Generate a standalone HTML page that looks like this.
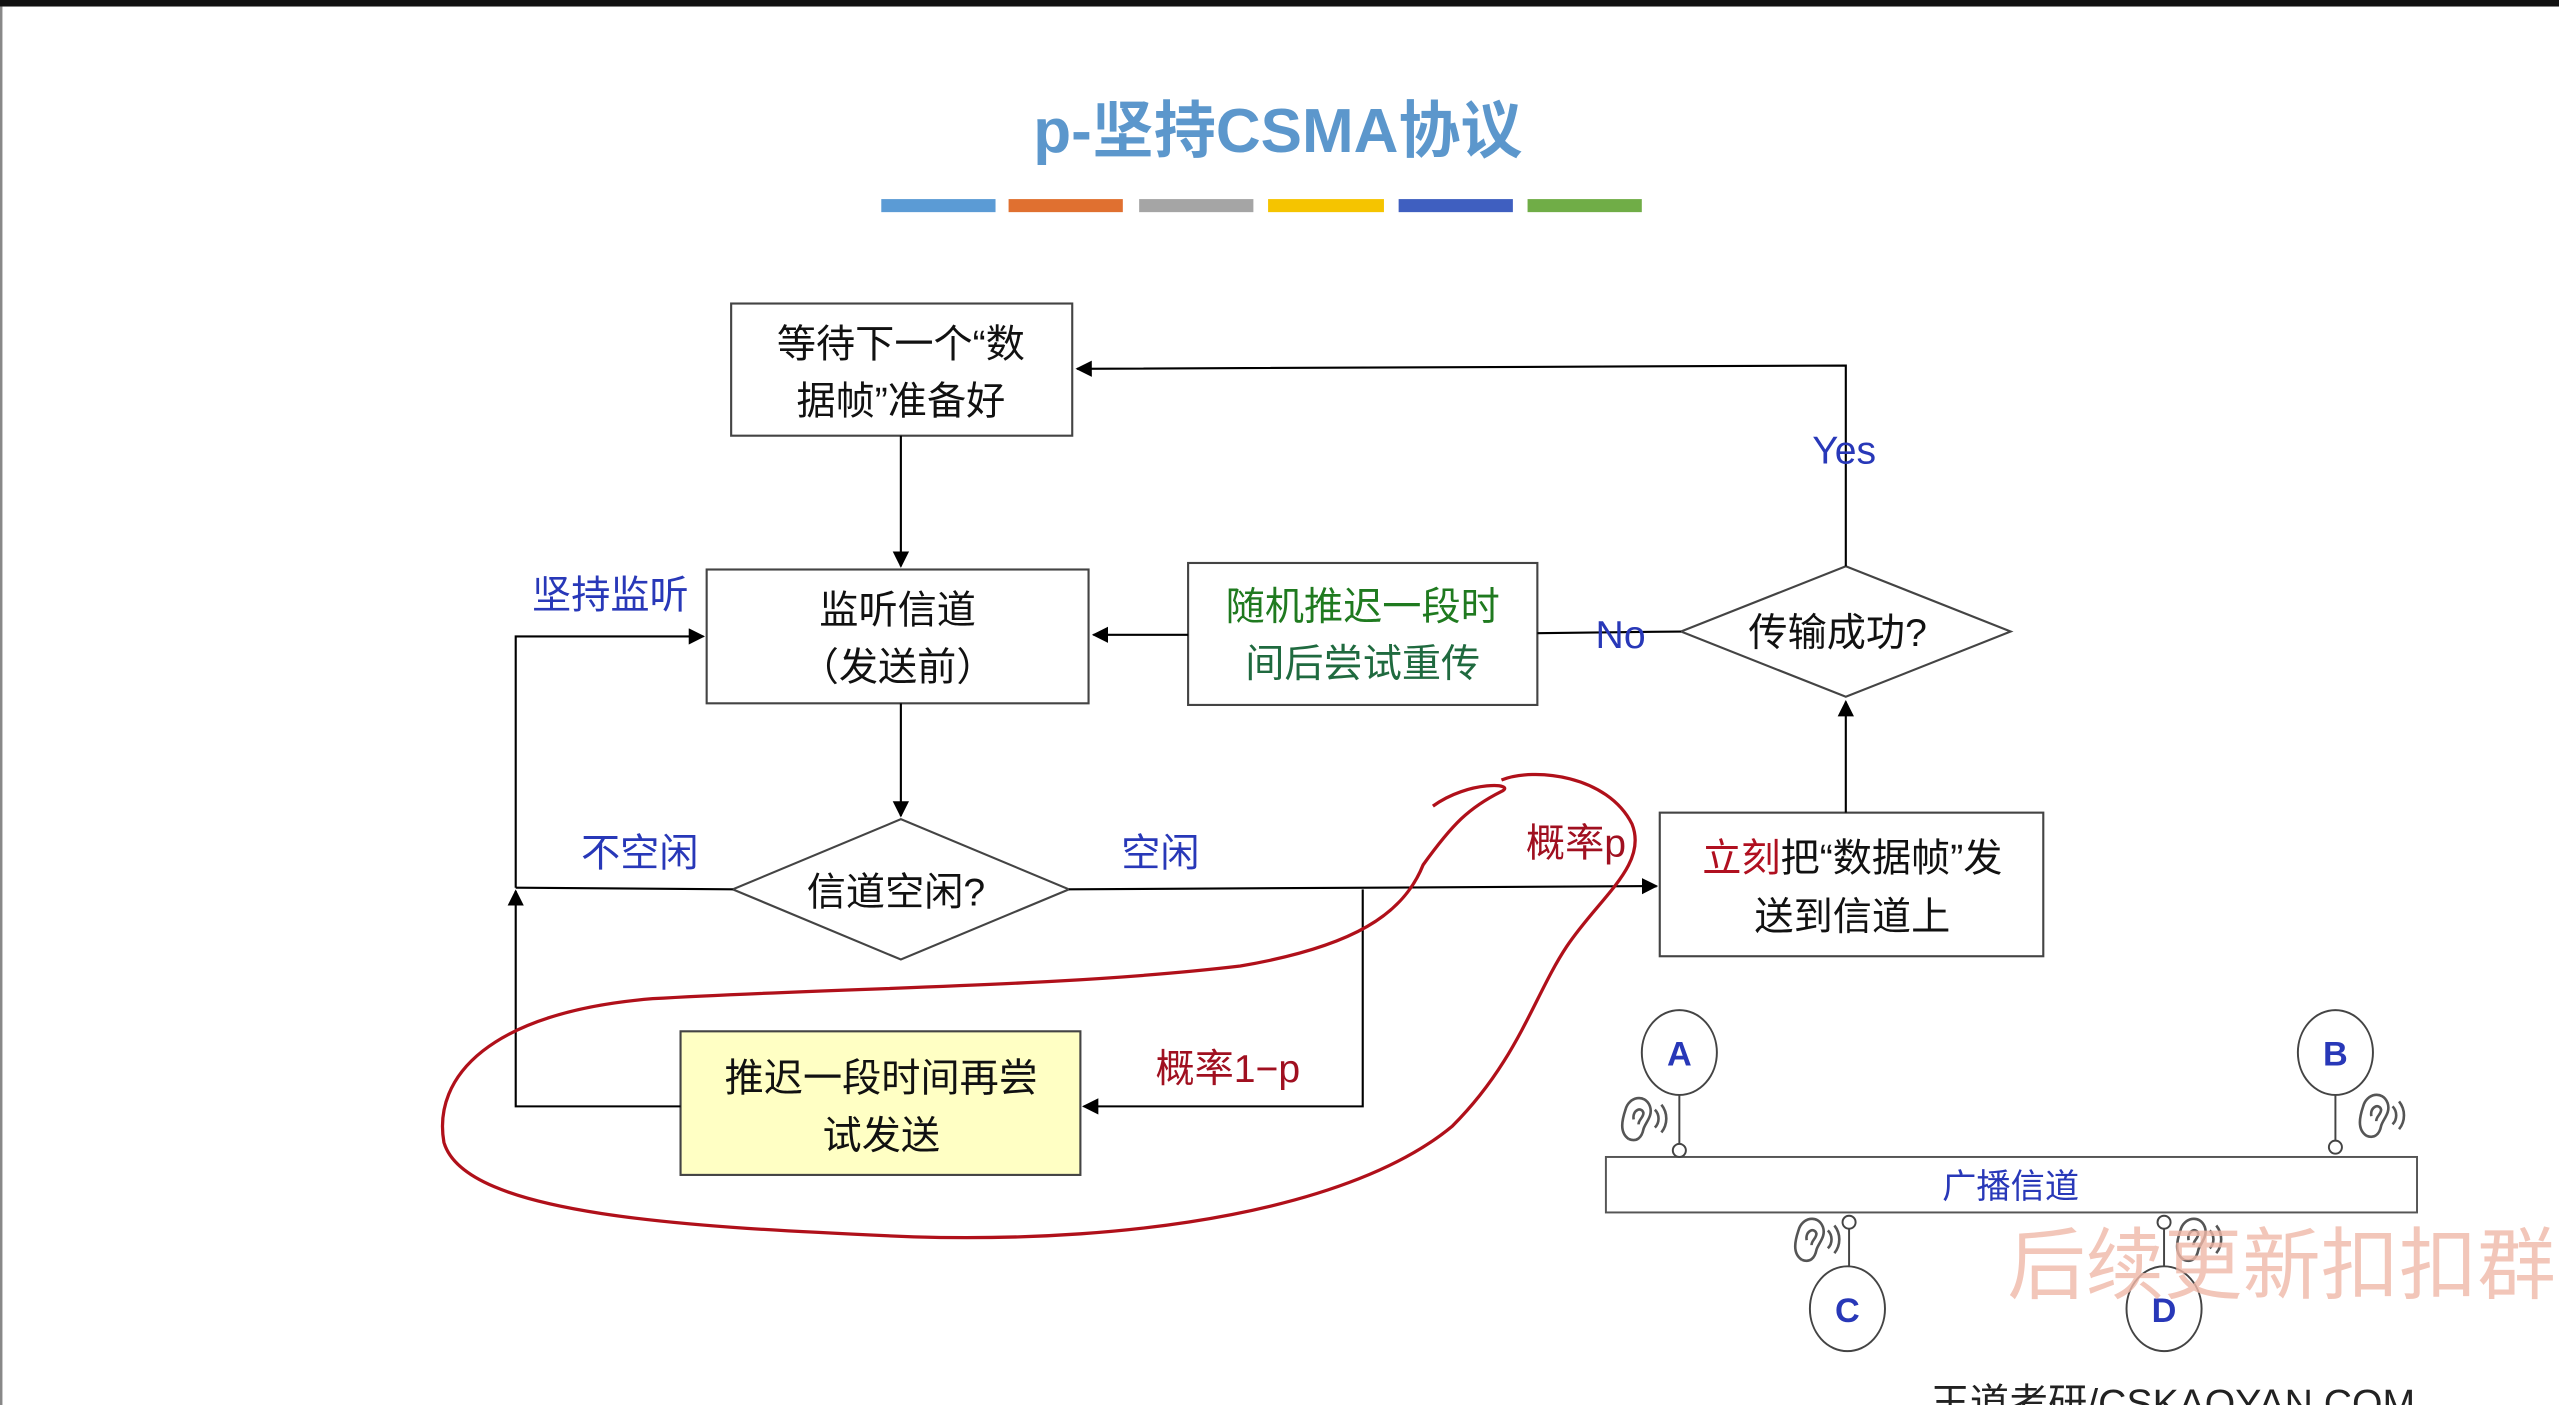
<!DOCTYPE html>
<html><head><meta charset="utf-8"><style>
html,body{margin:0;padding:0;background:#fff;overflow:hidden}
svg{display:block}
text{font-family:"Liberation Sans","Noto Sans CJK SC",sans-serif}
</style></head><body>
<svg width="2559" height="1405" viewBox="0 0 1568 861" preserveAspectRatio="none" xmlns="http://www.w3.org/2000/svg">
<defs>
<marker id="ar" markerWidth="10" markerHeight="10" refX="9" refY="5" orient="auto" markerUnits="userSpaceOnUse">
<path d="M0,0 L10,5 L0,10 z" fill="#000"/></marker>
<g id="ear" fill="none" stroke="#555" stroke-width="1.6">
<path d="M4,28 C-2,24 0,16 2,10 C4,2 14,0 17,8 C19,14 14,18 13,22 C12,27 9,30 4,28"/>
<path d="M7,16 C6,10 12,8 13,12 C13,15 10,16 10,19"/>
<path d="M20,10 C23,13 23,18 20,21"/>
<path d="M24,7 C28,12 28,19 24,24"/>
</g>
</defs>
<rect x="0" y="0" width="1568" height="861" fill="#fff"/>
<rect x="0" y="0" width="1568" height="4" fill="#111"/>
<rect x="0" y="4" width="1.5" height="857" fill="#888"/>
<text x="783" y="93" font-size="38" font-weight="bold" fill="#4f8fc8" text-anchor="middle" opacity="0.92">p-坚持CSMA协议</text>
<rect x="540" y="122" width="70" height="8" fill="#5b9bd5"/>
<rect x="618" y="122" width="70" height="8" fill="#e07030"/>
<rect x="698" y="122" width="70" height="8" fill="#a5a5a5"/>
<rect x="777" y="122" width="71" height="8" fill="#f5c400"/>
<rect x="857" y="122" width="70" height="8" fill="#3f5fc0"/>
<rect x="936" y="122" width="70" height="8" fill="#70ad47"/>

<g stroke="#444" stroke-width="1.3" fill="#fff">
<rect x="448" y="186" width="209" height="81"/>
<rect x="433" y="349" width="234" height="82"/>
<rect x="728" y="345" width="214" height="87"/>
<rect x="1017" y="498" width="235" height="88"/>
<rect x="417" y="632" width="245" height="88" fill="#ffffc4"/>
<polygon points="1030,387 1131,347 1232,387 1131,427"/>
<polygon points="449,545 552,502 655,545 552,588"/>
</g>
<g font-size="24" fill="#111" text-anchor="middle">
<text x="552" y="219">等待下一个“数</text>
<text x="552" y="254">据帧”准备好</text>
<text x="550" y="382">监听信道</text>
<text x="550" y="417">（发送前）</text>
<text x="835" y="380" fill="#1f7a1f">随机推迟一段时</text>
<text x="835" y="415" fill="#1f6a3f">间后尝试重传</text>
<text x="1126" y="396">传输成功?</text>
<text x="549" y="555">信道空闲?</text>
<text x="1135" y="534"><tspan fill="#b01020">立刻</tspan>把“数据帧”发</text>
<text x="1135" y="570">送到信道上</text>
<text x="540" y="669">推迟一段时间再尝</text>
<text x="540" y="704">试发送</text>
</g>
<g stroke="#000" stroke-width="1.3" fill="none">
<line x1="552" y1="267" x2="552" y2="347" marker-end="url(#ar)"/>
<line x1="552" y1="431" x2="552" y2="500" marker-end="url(#ar)"/>
<line x1="655" y1="545" x2="1015" y2="543" marker-end="url(#ar)"/>
<polyline points="835,545 835,678 664,678" marker-end="url(#ar)"/>
<polyline points="417,678 316,678 316,546" marker-end="url(#ar)"/>
<line x1="316" y1="544" x2="449" y2="545"/>
<polyline points="316,544 316,390 431,390" marker-end="url(#ar)"/>
<line x1="1131" y1="498" x2="1131" y2="430" marker-end="url(#ar)"/>
<polyline points="1131,347 1131,224 660,226" marker-end="url(#ar)"/>
<line x1="1030" y1="387" x2="942" y2="388"/>
<line x1="728" y1="389" x2="670" y2="389" marker-end="url(#ar)"/>
</g>
<g font-size="24" fill="#2838b8">
<text x="1130" y="284" text-anchor="middle">Yes</text>
<text x="993" y="397" text-anchor="middle">No</text>
<text x="374" y="373" text-anchor="middle">坚持监听</text>
<text x="392" y="531" text-anchor="middle">不空闲</text>
<text x="711" y="531" text-anchor="middle">空闲</text>
</g>
<g font-size="24" fill="#a01020">
<text x="935" y="525">概率p</text>
<text x="708" y="663">概率1−p</text>
</g>
<path d="M878,494 C900,478 930,480 920,485 C900,495 890,505 872,530 C860,560 830,580 760,592 C650,605 520,605 400,612 C300,620 265,660 272,700 C285,745 420,752 560,758 C700,762 830,740 890,690 C930,650 940,610 960,580 C980,550 1010,530 1000,505 C985,475 940,470 920,478" fill="none" stroke="#b0101a" stroke-width="2"/>

<rect x="984" y="709" width="497" height="34" fill="#fff" stroke="#555" stroke-width="1.2"/>
<text x="1232" y="734" font-size="21" fill="#2838b8" text-anchor="middle">广播信道</text>
<g stroke="#444" stroke-width="1.2" fill="#fff">
<line x1="1029" y1="671" x2="1029" y2="705"/>
<line x1="1431" y1="671" x2="1431" y2="703"/>
<line x1="1133" y1="749" x2="1133" y2="776"/>
<line x1="1326" y1="752" x2="1326" y2="776"/>
<ellipse cx="1029" cy="645" rx="23" ry="26"/>
<ellipse cx="1431" cy="645" rx="23" ry="26"/>
<ellipse cx="1132" cy="802" rx="23" ry="26"/>
<ellipse cx="1326" cy="802" rx="23" ry="26"/>
<ellipse cx="1029" cy="705" rx="4" ry="4"/>
<ellipse cx="1431" cy="703" rx="4" ry="4"/>
<ellipse cx="1133" cy="749" rx="4" ry="4"/>
<ellipse cx="1326" cy="749" rx="4" ry="4"/>
</g>
<g font-size="21" font-weight="bold" fill="#2838b8" text-anchor="middle">
<text x="1029" y="653">A</text><text x="1431" y="653">B</text>
<text x="1132" y="810">C</text><text x="1326" y="810">D</text>
</g>
<use href="#ear" x="994" y="670"/>
<use href="#ear" x="1446" y="668"/>
<use href="#ear" x="1100" y="744"/>
<use href="#ear" x="1334" y="744"/>
<text x="1230" y="792" font-size="48" fill="#f0b8a8" opacity="0.8">后续更新扣扣群：</text>
<text x="1183" y="868" font-size="24" fill="#222">王道考研/CSKAOYAN.COM</text>
</svg>
</body></html>
